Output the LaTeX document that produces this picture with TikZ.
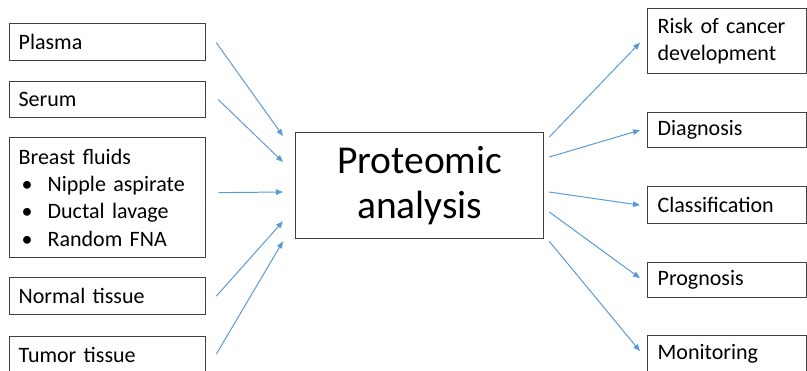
\documentclass[tikz,border=0pt]{standalone}
\usepackage{fontspec}
\setmainfont{Carlito}
\usetikzlibrary{arrows.meta,calc}
\definecolor{arrowblue}{RGB}{91,155,213}
\definecolor{boxgray}{RGB}{64,64,64}
\begin{document}
\begin{tikzpicture}[x=1pt,y=-1pt,
  box/.style={draw=boxgray,line width=1.3pt,rectangle,anchor=north west,
    inner ysep=0pt,align=left,font=\fontsize{22}{27.3}\selectfont},
  srcbox/.style={box,inner xsep=9pt,text width=178pt},
  outbox/.style={box,inner xsep=10pt,text width=139pt},
  link/.style={draw=arrowblue,line width=1pt,-{Triangle[length=7pt,width=5.5pt]}}]
\useasboundingbox (0,0) rectangle (807,370);
\clip (0,0) rectangle (807,370);

% input samples
\node[srcbox,minimum height=37pt] (plasma) at (9,23) {Plasma};
\node[srcbox,minimum height=36pt] (serum) at (9,81) {Serum};
\node[srcbox,minimum height=120pt] (fluids) at (9,137) {Breast fluids\\
  \makebox[29pt][l]{\hspace{3pt}•}Nipple aspirate\\
  \makebox[29pt][l]{\hspace{3pt}•}Ductal lavage\\
  \makebox[29pt][l]{\hspace{3pt}•}Random FNA};
\node[srcbox,minimum height=37pt] (normal) at (9,277) {Normal tissue};
\node[srcbox,minimum height=37pt] (tumor) at (9,336) {Tumor tissue};

% central analysis
\node[draw=boxgray,line width=1.3pt,rectangle,anchor=north west,
  minimum width=248pt,minimum height=106pt,inner sep=0pt,align=center,
  font=\fontsize{39.5}{45}\selectfont] (prot) at (295,132) {Proteomic\\analysis};

% outcomes
\node[outbox,minimum height=65pt] (risk) at (647,8) {Risk of cancer\\development};
\node[outbox,minimum height=35pt] (diag) at (647,112) {Diagnosis};
\node[outbox,minimum height=37pt] (class) at (647,186) {Classification};
\node[outbox,minimum height=35pt] (prog) at (647,262) {Prognosis};
\node[outbox,minimum height=37pt] (monit) at (647,335) {Monitoring};

% inputs to analysis
\draw[link] ($(plasma.east)+(10,0.5)$) -- ($(prot.north west)+(-12,4)$);
\draw[link] ($(serum.east)+(12,0)$) -- ($(prot.north west)+(-12,30)$);
\draw[link] ($(fluids.east)+(12,-5)$) -- ($(prot.north west)+(-12,60)$);
\draw[link] ($(normal.east)+(10,0)$) -- ($(prot.south west)+(-12,-18)$);
\draw[link] ($(tumor.east)+(10,-1)$) -- ($(prot.south west)+(-12,2)$);

% analysis to outcomes
\draw[link] ($(prot.north east)+(5,5)$) -- ($(risk.west)+(-7,1.5)$);
\draw[link] ($(prot.north east)+(5,25)$) -- ($(diag.west)+(-7,0)$);
\draw[link] ($(prot.north east)+(5,60)$) -- ($(class.west)+(-7,0)$);
\draw[link] ($(prot.north east)+(5,80)$) -- ($(prog.west)+(-7,-2)$);
\draw[link] ($(prot.south east)+(5,2)$) -- ($(monit.west)+(-7,-3)$);
\end{tikzpicture}
\end{document}
